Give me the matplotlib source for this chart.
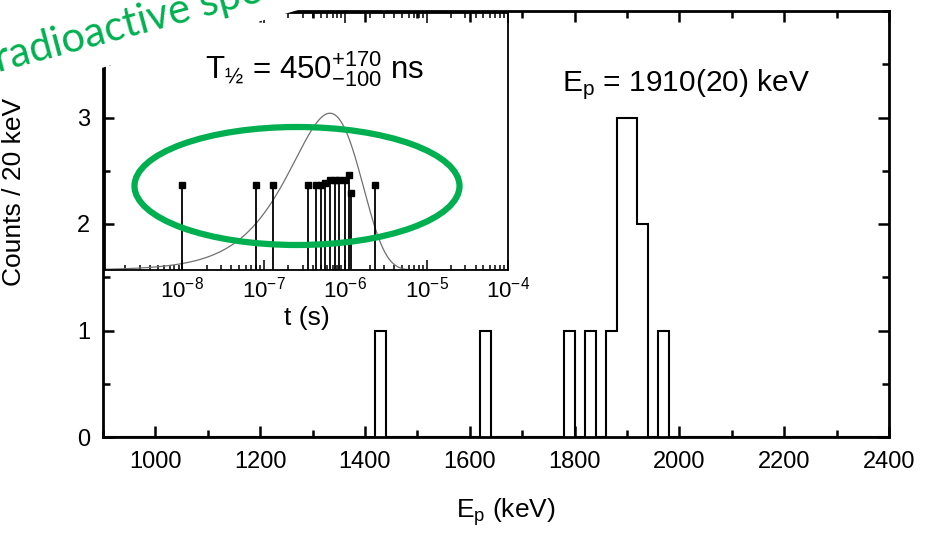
import numpy as np
import matplotlib
matplotlib.use('Agg')
import matplotlib.pyplot as plt
from matplotlib.patches import Ellipse, Polygon
from matplotlib.ticker import MultipleLocator, LogLocator, NullFormatter

# histogram data (20 keV bins)
bin_lo = [1420, 1620, 1780, 1820, 1860, 1880, 1900, 1920, 1960]
bin_counts = [1, 1, 1, 1, 1, 3, 3, 2, 1]
bin_width = 20
e_range = (900, 2400)

# inset: individual decay times
t_events = [1.0e-8, 8.0e-8, 1.3e-7, 3.5e-7, 4.4e-7, 5.1e-7, 5.6e-7, 6.5e-7,
            7.4e-7, 8.5e-7, 9.9e-7, 1.1e-6, 1.17e-6, 2.35e-6]
t_heights = [0.33, 0.33, 0.33, 0.33, 0.33, 0.33, 0.34, 0.35,
             0.35, 0.35, 0.35, 0.37, 0.30, 0.33]
t_half = 450e-9
curve_peak = 0.61

xticks = [1000, 1200, 1400, 1600, 1800, 2000, 2200, 2400]
yticks = [0, 1, 2, 3]

fam = 'Liberation Sans'
plt.rcParams['font.family'] = [fam, 'DejaVu Sans']
plt.rcParams['mathtext.fontset'] = 'custom'
plt.rcParams['mathtext.rm'] = fam
plt.rcParams['mathtext.it'] = fam
plt.rcParams['mathtext.default'] = 'regular'

W, H = 928, 537
fig = plt.figure(figsize=(W / 100, H / 100), dpi=100)


def fx(x):
    return x / W


def fy(y):
    return 1 - y / H


ax = fig.add_axes([fx(103), fy(437), fx(889) - fx(103), fy(11) - fy(437)])

edges = np.arange(e_range[0], e_range[1] + bin_width, bin_width)
full = np.zeros(len(edges) - 1)
for lo, c in zip(bin_lo, bin_counts):
    full[(lo - e_range[0]) // bin_width] = c
ax.stairs(full, edges, baseline=0, color='black', lw=1.5)

ax.set_xlim(*e_range)
ax.set_ylim(0, 4)
ax.set_xticks(xticks)
ax.set_yticks(yticks)
ax.xaxis.set_minor_locator(MultipleLocator(100))
ax.yaxis.set_minor_locator(MultipleLocator(0.5))
ax.tick_params(which='both', direction='in', top=True, right=True, width=1.8,
               labelsize=17)
ax.tick_params(which='major', length=8)
ax.tick_params(which='minor', length=5)
ax.tick_params(axis='x', pad=10)
ax.tick_params(axis='y', pad=9)
for s in ax.spines.values():
    s.set_linewidth(2.0)

ax.set_xlabel(r'E$_\mathregular{p}$ (keV)', fontsize=19)
ax.xaxis.set_label_coords(0.512, -0.14)
ax.set_ylabel('Counts / 20 keV', fontsize=19)
ax.yaxis.set_label_coords(-0.098, 0.576)

ax.text(2013, 3.31, r'E$_\mathregular{p}$ = 1910(20) keV', fontsize=21.5,
        ha='center', va='center')

# inset
axi = fig.add_axes([fx(105), fy(270), fx(508) - fx(105), fy(13) - fy(270)])
axi.set_facecolor('none')
axi.set_xscale('log')
axi.set_xlim(10 ** -8.95, 1e-4)
axi.set_ylim(0, 1)

tt = np.logspace(-9, -4, 600)
lam = np.log(2) / t_half
dens = lam * tt * np.exp(-lam * tt)
axi.plot(tt, dens / dens.max() * curve_peak, color='#707070', lw=0.9)

axi.vlines(t_events, 0, t_heights, color='black', lw=1.3)
axi.plot(t_events, t_heights, 's', color='black', ms=5)

axi.set_yticks([])
axi.set_xticks([1e-8, 1e-7, 1e-6, 1e-5, 1e-4])
axi.set_xticklabels([r'10$^{-8}$', r'10$^{-7}$', r'10$^{-6}$', r'10$^{-5}$',
                     r'10$^{-4}$'])
axi.xaxis.set_minor_locator(LogLocator(base=10, subs=np.arange(2, 10), numticks=20))
axi.xaxis.set_minor_formatter(NullFormatter())
axi.tick_params(which='both', direction='in', top=True, width=1.1,
                labelsize=16, pad=5)
axi.tick_params(which='major', length=7)
axi.tick_params(which='minor', length=3.5)
for s in axi.spines.values():
    s.set_linewidth(1.3)
axi.set_xlabel('t (s)', fontsize=19)
axi.xaxis.set_label_coords(0.5, -0.14)

axi.text(0.52, 0.78, r'T$_{½}$ = 450$^{+170}_{-100}$ ns', transform=axi.transAxes,
         fontsize=22.5, ha='center', va='center')

# white cut-out behind the overlay text
px = [(0, 0), (332, 0), (105, 67), (0, 98)]
fig.add_artist(Polygon([(fx(x), fy(y)) for x, y in px], closed=True,
                       transform=fig.transFigure, facecolor='white',
                       edgecolor='none', zorder=10))

green = '#00B050'
fig.text(fx(-2), fy(72), 'radioactive spectrum', color=green, fontsize=30,
         family='Lato', rotation=15, rotation_mode='anchor',
         ha='left', va='baseline', zorder=11)

fig.add_artist(Ellipse((fx(297), fy(186)), width=fx(325), height=118 / H,
                       transform=fig.transFigure, fill=False, edgecolor=green,
                       lw=4.5, zorder=11))

fig.savefig('out.png', dpi=100)
